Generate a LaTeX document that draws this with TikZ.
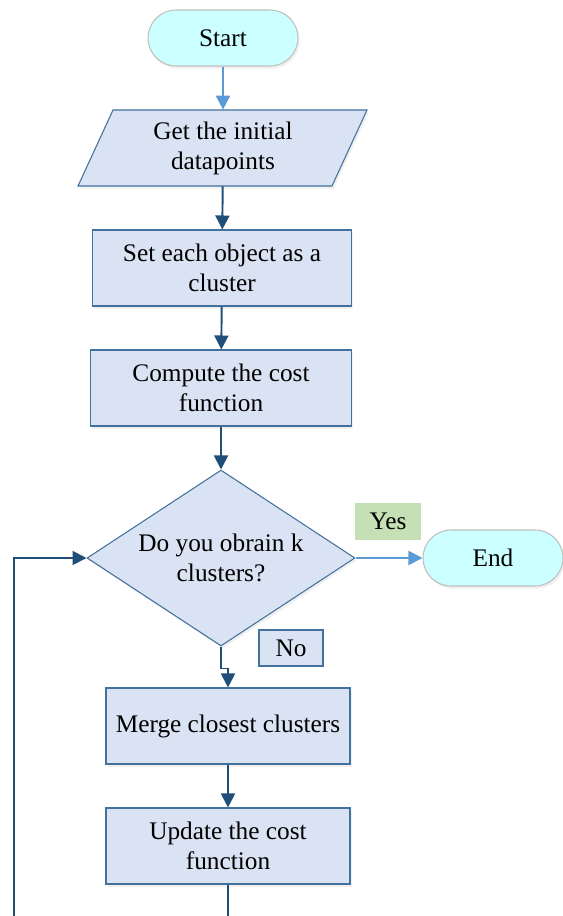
\documentclass[tikz,border=0pt]{standalone}
\usepackage{fontspec}
\setmainfont{Liberation Serif}
\usetikzlibrary{shapes.geometric,arrows.meta,shadows}
\definecolor{boxfill}{HTML}{DAE3F3}
\definecolor{boxline}{HTML}{41719C}
\definecolor{flowline}{HTML}{1F4E79}
\definecolor{termfill}{HTML}{CCFFFF}
\definecolor{termline}{HTML}{BFBFBF}
\definecolor{lightflow}{HTML}{5B9BD5}
\definecolor{yesfill}{HTML}{C5E0B4}

\begin{document}
\begin{tikzpicture}[x=0.02cm, y=-0.02cm, >={Triangle[length=0.28cm,width=0.28cm]}]
\tikzset{every node/.style={font=\fontsize{14.4pt}{17pt}\selectfont, align=center}}
\tikzset{soft/.style={drop shadow={opacity=0.12,shadow xshift=1pt,shadow yshift=-1.5pt}}}
\tikzset{term/.style={draw=termline, fill=termfill, line width=0.6pt, rounded corners=0.56cm, minimum width=3cm, minimum height=1.12cm, soft}}
\tikzset{proc/.style={draw=boxline, fill=boxfill, line width=0.6pt, minimum height=1.52cm, soft}}
\tikzset{flow/.style={draw=flowline, line width=1.1pt}}
\tikzset{light/.style={draw=lightflow, line width=1.1pt}}
\useasboundingbox (0,0) rectangle (563,916);

\node[term] (start) at (223,38) {Start};
\draw[proc] (113,110) -- (367,110) -- (332,186) -- (78,186) -- cycle;
\node[minimum height=1.52cm, inner sep=0] (input) at (223,148) {Get the initial\\datapoints};
\node[proc, minimum width=5.18cm] (init) at (222,268) {Set each object as a\\cluster};
\node[proc, minimum width=5.22cm] (cost) at (221,388) {Compute the cost\\function};
\node[proc, diamond, aspect=1.52, minimum width=5.36cm, minimum height=3.52cm, inner sep=0] (decide) at (221,558) {Do you obrain k\\clusters?};
\node[term, minimum width=2.8cm] (end) at (493,558) {End};
\node[fill=yesfill, minimum width=1.34cm, minimum height=0.74cm] (yes) at (388,521) {Yes};
\node[draw=boxline, fill=boxfill, line width=0.6pt, minimum width=1.28cm, minimum height=0.72cm] (no) at (291,648) {No};
\node[proc, minimum width=4.88cm] (merge) at (228,726) {Merge closest clusters};
\node[proc, minimum width=4.88cm] (update) at (228,846) {Update the cost\\function};
\coordinate (cut) at (228,916);
\coordinate (cutleft) at (14,916);

\draw[light,->] (start) -- (input);
\draw[flow,->] (input) -- (init);
\draw[flow,->] (init) -- (cost);
\draw[flow,->] (cost) -- (decide);
\draw[light,->] (decide) -- (end);
\draw[flow,->] (decide.south) -- ++(0,22) -| (merge.north);
\draw[flow,->] (merge) -- (update);
\draw[flow] (update) -- (cut);
% loop back to the test
\draw[flow,->] (cutleft) |- (decide.west);
\end{tikzpicture}
\end{document}
